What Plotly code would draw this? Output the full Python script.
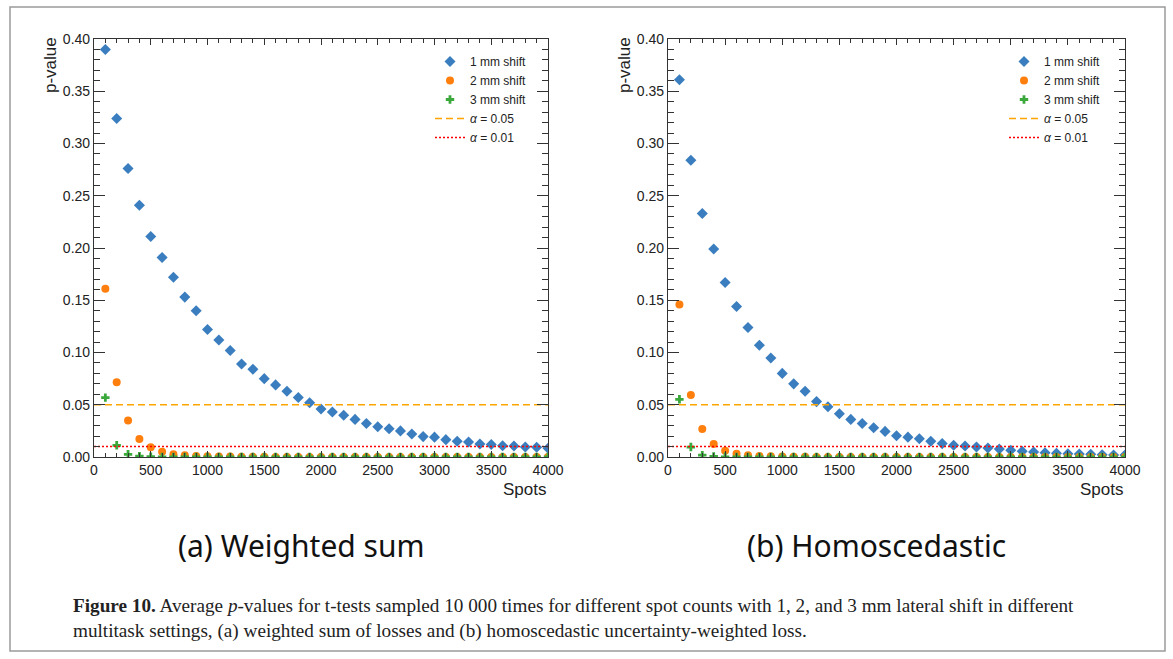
import plotly.graph_objects as go

W, H = 1173, 659

spots = list(range(100, 4001, 100))

# (a) Weighted sum
a_1mm = [0.390, 0.324, 0.276, 0.241, 0.211, 0.191, 0.172, 0.153, 0.140, 0.122,
         0.112, 0.102, 0.089, 0.084, 0.075, 0.069, 0.063, 0.057, 0.052, 0.046,
         0.043, 0.040, 0.036, 0.032, 0.029, 0.027, 0.025, 0.022, 0.0195, 0.019,
         0.0166, 0.015, 0.0144, 0.0124, 0.012, 0.0108, 0.0105, 0.0096, 0.0093, 0.0083]
a_2mm = [0.161, 0.0715, 0.035, 0.0172, 0.0093, 0.0051, 0.0026, 0.0016, 0.0010, 0.0007,
         0.0005, 0.0004, 0.0003, 0.0002, 0.0002, 0.0001, 0.0001, 0.0001, 0.0001, 0.0,
         0.0, 0.0, 0.0, 0.0, 0.0, 0.0, 0.0, 0.0, 0.0, 0.0,
         0.0, 0.0, 0.0, 0.0, 0.0, 0.0, 0.0, 0.0, 0.0, 0.0]
a_3mm = [0.0568, 0.0112, 0.0026, 0.0008, 0.0003, 0.0001, 0.0001, 0.0, 0.0, 0.0,
         0.0, 0.0, 0.0, 0.0, 0.0, 0.0, 0.0, 0.0, 0.0, 0.0,
         0.0, 0.0, 0.0, 0.0, 0.0, 0.0, 0.0, 0.0, 0.0, 0.0,
         0.0, 0.0, 0.0, 0.0, 0.0, 0.0, 0.0, 0.0, 0.0, 0.0]

# (b) Homoscedastic
b_1mm = [0.361, 0.284, 0.233, 0.199, 0.167, 0.144, 0.124, 0.107, 0.0947, 0.080,
         0.070, 0.063, 0.053, 0.048, 0.0414, 0.036, 0.032, 0.028, 0.0245, 0.0204,
         0.019, 0.0175, 0.015, 0.0128, 0.0112, 0.0105, 0.0096, 0.0086, 0.0077, 0.0064,
         0.0054, 0.0048, 0.0041, 0.0035, 0.0032, 0.0029, 0.0026, 0.0022, 0.0019, 0.0018]
b_2mm = [0.146, 0.0593, 0.0268, 0.0124, 0.0060, 0.0032, 0.0016, 0.0009, 0.0006, 0.0004,
         0.0003, 0.0002, 0.0001, 0.0001, 0.0001, 0.0, 0.0, 0.0, 0.0, 0.0,
         0.0, 0.0, 0.0, 0.0, 0.0, 0.0, 0.0, 0.0, 0.0, 0.0,
         0.0, 0.0, 0.0, 0.0, 0.0, 0.0, 0.0, 0.0, 0.0, 0.0]
b_3mm = [0.0552, 0.0095, 0.0018, 0.0005, 0.0002, 0.0001, 0.0, 0.0, 0.0, 0.0,
         0.0, 0.0, 0.0, 0.0, 0.0, 0.0, 0.0, 0.0, 0.0, 0.0,
         0.0, 0.0, 0.0, 0.0, 0.0, 0.0, 0.0, 0.0, 0.0, 0.0,
         0.0, 0.0, 0.0, 0.0, 0.0, 0.0, 0.0, 0.0, 0.0, 0.0]

alpha_levels = [0.05, 0.01]
alpha_labels = ["<i>α</i> = 0.05", "<i>α</i> = 0.01"]
x_span = [0, 4000]

series_names = ["1 mm shift", "2 mm shift", "3 mm shift"]
panel_titles = ["(a) Weighted sum", "(b) Homoscedastic"]
x_ticks = list(range(0, 4001, 500))
y_ticks = [0.0, 0.05, 0.10, 0.15, 0.20, 0.25, 0.30, 0.35, 0.40]
y_ticktext = ["0.00", "0.05", "0.10", "0.15", "0.20", "0.25", "0.30", "0.35", "0.40"]
caption = ("<b>Figure 10.</b> Average <i>p</i>-values for t-tests sampled 10 000 times for different "
           "spot counts with 1, 2, and 3 mm lateral shift in different<br>multitask settings, "
           "(a) weighted sum of losses and (b) homoscedastic uncertainty-weighted loss.")

BLUE, ORANGE, GREEN = "#3b7ebf", "#ff7f0e", "#3aa83a"
styles = [dict(symbol="diamond", size=8.5, color=BLUE),
          dict(symbol="circle", size=8, color=ORANGE),
          dict(symbol="cross", size=7, color=GREEN)]
line_styles = [dict(color="#ffa500", dash="7px,4px", width=1.3),
               dict(color="#ff0000", dash="2px,2px", width=1.5)]

fig = go.Figure()


def px_x(p):
    return p / W


def px_y(p):
    return 1 - p / H


domains = [(94, 548), (668, 1125)]
ydom = [px_y(457), px_y(39)]
panels = [(a_1mm, a_2mm, a_3mm), (b_1mm, b_2mm, b_3mm)]

for i, series in enumerate(panels):
    xa = "x" if i == 0 else "x2"
    ya = "y" if i == 0 else "y2"
    lg = "legend" if i == 0 else "legend2"
    for name, vals, st in zip(series_names, series, styles):
        fig.add_trace(go.Scatter(
            x=spots, y=vals, mode="markers", name=name, xaxis=xa, yaxis=ya, legend=lg,
            marker=dict(symbol=st["symbol"], size=st["size"], color=st["color"], line=dict(width=0)),
        ))
    for lvl, lab, ls in zip(alpha_levels, alpha_labels, line_styles):
        fig.add_trace(go.Scatter(
            x=x_span, y=[lvl, lvl], mode="lines", name=lab, xaxis=xa, yaxis=ya, legend=lg,
            line=ls,
        ))

axis_common = dict(showgrid=False, zeroline=False, showline=True, linecolor="#333",
                   linewidth=1.2, mirror="allticks", ticks="inside", tickcolor="#333",
                   tickfont=dict(family="Liberation Sans", size=14, color="#222"))

xaxis_cfg = dict(range=[0, 4000], tickmode="array", tickvals=x_ticks,
                 ticklen=6, tickwidth=1.2,
                 minor=dict(ticks="inside", dtick=100, ticklen=3.5, tickcolor="#333", tickwidth=1),
                 **axis_common)
yaxis_cfg = dict(range=[0, 0.40], tickmode="array", tickvals=y_ticks, ticktext=y_ticktext,
                 ticklen=11, tickwidth=1.2,
                 minor=dict(ticks="inside", dtick=0.01, ticklen=6, tickcolor="#333", tickwidth=1),
                 **axis_common)

legend_font = dict(family="Liberation Sans", size=12, color="#222")
fig.update_layout(
    width=W, height=H, autosize=False,
    margin=dict(l=0, r=0, t=0, b=0, autoexpand=False),
    paper_bgcolor="white", plot_bgcolor="white",
    xaxis=dict(domain=[px_x(94), px_x(548)], anchor="y", **xaxis_cfg),
    yaxis=dict(domain=ydom, anchor="x", **yaxis_cfg),
    xaxis2=dict(domain=[px_x(668), px_x(1125)], anchor="y2", **xaxis_cfg),
    yaxis2=dict(domain=ydom, anchor="x2", **yaxis_cfg),
    legend=dict(x=px_x(430), y=px_y(47), xanchor="left", yanchor="top",
                bgcolor="rgba(0,0,0,0)", tracegroupgap=0, font=legend_font),
    legend2=dict(x=px_x(1004), y=px_y(47), xanchor="left", yanchor="top",
                 bgcolor="rgba(0,0,0,0)", tracegroupgap=0, font=legend_font),
    showlegend=True,
)

annotations = []
title_centers = [301, 877]
for dom, title, tc in zip(domains, panel_titles, title_centers):
    annotations.append(dict(x=px_x(dom[0] - 43), y=px_y(35), xref="paper", yref="paper",
                            text="p-value", textangle=-90, showarrow=False,
                            xanchor="center", yanchor="top",
                            font=dict(family="Liberation Sans", size=17, color="#222")))
    annotations.append(dict(x=px_x(dom[1]), y=px_y(490), xref="paper", yref="paper",
                            text="Spots", showarrow=False, xanchor="right", yanchor="middle",
                            font=dict(family="Liberation Sans", size=17, color="#222")))
    annotations.append(dict(x=px_x(tc), y=px_y(545), xref="paper", yref="paper",
                            text=title, showarrow=False, xanchor="center", yanchor="middle",
                            font=dict(family="Noto Sans", size=30, color="#111")))
annotations.append(dict(x=px_x(71), y=px_y(593), xref="paper", yref="paper",
                        text=caption, showarrow=False, xanchor="left", yanchor="top", align="left",
                        font=dict(family="Liberation Serif", size=19.2, color="#222")))
fig.update_layout(annotations=annotations)

fig.add_shape(type="rect", xref="paper", yref="paper",
              x0=px_x(10), x1=px_x(1165), y0=px_y(651), y1=px_y(7),
              line=dict(color="#9a9a9a", width=1.5), fillcolor="rgba(0,0,0,0)")

fig.write_html("out.html",
               config={"displayModeBar": False},
               post_script="document.body.style.margin='0px';document.body.style.padding='0px';"
                           "document.body.style.overflow='hidden';")
